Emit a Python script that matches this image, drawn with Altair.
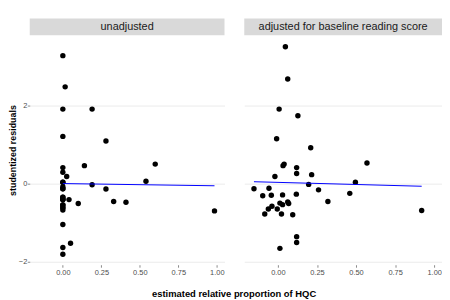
import altair as alt
import pandas as pd

# ---- data ----
# (left panel: several points sit on top of each other at x = 0)
unadj_x = [0, 0, 0, 0, 0, 0, 0, 0, 0, 0, 0, 0, 0, 0, 0, 0,
           0, 0, 0, 0, 0, 0, 0,
           0.015, 0.025, 0.04, 0.05, 0.10, 0.14, 0.19, 0.19, 0.28, 0.28,
           0.33, 0.41, 0.54, 0.60, 0.985]
unadj_y = [3.28, 1.91, 1.21, 0.41, 0.29, 0.035, -0.08, -0.13, -0.35, -0.41,
           -0.55, -0.62, -0.68, -1.05, -1.64, -1.81,
           -0.35, -0.41, -0.41, -0.55, -0.62, -0.13, 0.035,
           2.48, 0.18, -0.41, -1.53, -0.51, 0.46, 1.91, -0.03, 1.09, -0.14,
           -0.46, -0.48, 0.06, 0.50, -0.70]

adj_x = [0.048, 0.063, 0.008, 0.128, -0.008, 0.21, 0.033, 0.04, 0.12, 0.12,
         0.216, -0.019, 0.197, -0.153, -0.057, 0.26, 0.46, 0.496, 0.57, -0.097,
         -0.042, 0.03, 0.118, 0.063, 0.069, 0.013, 0.03, -0.038, -0.061, -0.004,
         0.32, -0.084, 0.023, 0.095, 0.12, 0.12, 0.013, 0.92]
adj_y = [3.51, 2.68, 1.91, 1.74, 1.15, 0.92, 0.46, 0.50, 0.41, 0.26,
         0.23, 0.18, -0.02, -0.13, -0.12, -0.16, -0.25, 0.035, 0.53, -0.31,
         -0.30, -0.29, -0.27, -0.47, -0.51, -0.50, -0.54, -0.58, -0.65, -0.65,
         -0.46, -0.78, -0.78, -0.80, -1.36, -1.51, -1.66, -0.69]

panel_labels = ["unadjusted", "adjusted for baseline reading score"]
x_ticks = [0, 0.25, 0.5, 0.75, 1.0]
y_ticks = [-2, 0, 2]

FONT = "Liberation Sans"
H = 232
STRIP = 17

x_scale = alt.Scale(domain=[-0.215, 1.05], nice=False, zero=False)
y_scale = alt.Scale(domain=[-2.08, 3.80], nice=False, zero=False)


def panel(xs, ys, label, first, W):
    df = pd.DataFrame({"x": xs, "y": ys})
    strip_df = pd.DataFrame({"label": [label]})
    xaxis = alt.Axis(values=x_ticks, format=".2f", grid=False, domain=False,
                     ticks=True, tickSize=2.5, tickColor="#8a8a8a",
                     labelFontSize=7.5, labelColor="#4d4d4d", labelPadding=1,
                     labelFont=FONT, title=None)
    if first:
        yaxis = alt.Axis(values=y_ticks, format="d", grid=True, domain=False,
                         ticks=True, tickSize=2.5, tickColor="#8a8a8a",
                         labelFontSize=7.5, labelColor="#4d4d4d", labelPadding=0.5,
                         labelFont=FONT, gridColor="#ebebeb", gridWidth=1,
                         title="studentized residuals", titleFont=FONT,
                         titleFontSize=9, titleFontWeight="bold",
                         titleColor="#000000", titlePadding=1)
    else:
        yaxis = alt.Axis(values=y_ticks, grid=True, domain=False, ticks=False,
                         labels=False, gridColor="#ebebeb", gridWidth=1,
                         title=None)
    base = alt.Chart(df)
    pts = base.mark_circle(size=30, color="#000000", opacity=1).encode(
        x=alt.X("x:Q", scale=x_scale, axis=xaxis),
        y=alt.Y("y:Q", scale=y_scale, axis=yaxis),
    )
    line = base.transform_regression("x", "y").mark_line(
        color="#0000ff", strokeWidth=1
    ).encode(x=alt.X("x:Q", scale=x_scale), y=alt.Y("y:Q", scale=y_scale))
    strip = alt.Chart(strip_df).mark_rect(color="#d9d9d9").encode(
        x=alt.value(0), x2=alt.value(W), y=alt.value(-STRIP), y2=alt.value(0)
    )
    txt = alt.Chart(strip_df).mark_text(
        font=FONT, fontSize=11, color="#1a1a1a", baseline="middle", align="center"
    ).encode(x=alt.value(W / 2), y=alt.value(-STRIP / 2), text="label:N")
    return alt.layer(strip, txt, pts, line).properties(width=W, height=H)


left = panel(unadj_x, unadj_y, panel_labels[0], True, 197)
right = panel(adj_x, adj_y, panel_labels[1], False, 200)

chart = alt.hconcat(left, right, spacing=20).properties(
    title=alt.TitleParams(
        "estimated relative proportion of HQC", orient="bottom", anchor="middle",
        font=FONT, fontSize=9.5, fontWeight="bold", color="#000000", offset=14,
        dx=9,
    ),
    padding={"left": 0, "top": 9, "right": 0, "bottom": 0},
).configure_view(stroke=None)

chart.save("out.html", embed_options={"renderer": "svg", "actions": False})
